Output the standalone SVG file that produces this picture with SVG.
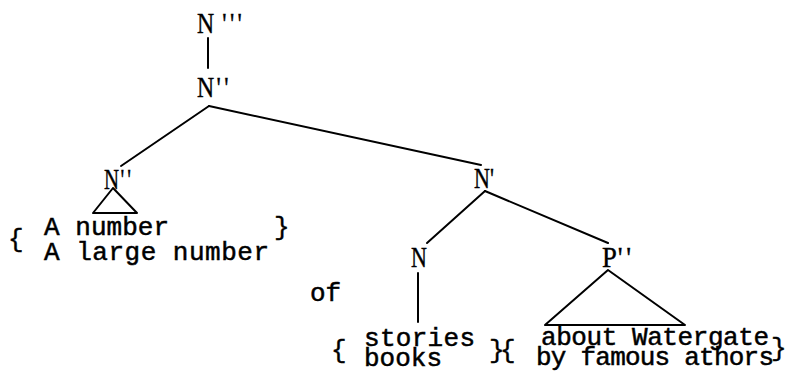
<svg xmlns="http://www.w3.org/2000/svg" width="794" height="388" viewBox="0 0 794 388">
<style>
.lbl{font-family:"Liberation Serif","Times New Roman",serif;font-size:29px;fill:#000;stroke:#000;stroke-width:0.4}
.tw{font-family:"Liberation Mono","Courier New",monospace;font-size:26px;fill:#000;stroke:#000;stroke-width:0.5}
.br{font-family:"Liberation Mono","Courier New",monospace;font-size:26px;fill:#000;stroke:#000;stroke-width:0.4}
.e{stroke:#000;stroke-width:2;fill:none;stroke-linecap:round;stroke-linejoin:round}
</style>
<rect width="794" height="388" fill="#fff"/>
<g id="connectors">
<line class="e" x1="208" y1="38" x2="208" y2="68"/>
<line class="e" x1="209" y1="106" x2="121" y2="166"/>
<line class="e" x1="209" y1="106" x2="481" y2="165"/>
<line class="e" x1="485" y1="191" x2="427" y2="243"/>
<line class="e" x1="485" y1="191" x2="608" y2="243"/>
<line class="e" x1="418" y1="273" x2="418" y2="322"/>
<polygon class="e" points="113,188 93,213 137,213"/>
<polygon class="e" points="608,270 545,325 685,325"/>
</g>
<g id="n3">
<text class="lbl" transform="translate(197,33) scale(0.82,1)">N<tspan dx="10" letter-spacing="4">'''</tspan></text>
</g>
<g id="n2top">
<text class="lbl" transform="translate(197,97) scale(0.82,1)">N<tspan dx="3" letter-spacing="4">''</tspan></text>
</g>
<g id="n2left">
<text class="lbl" transform="translate(104,189) scale(0.72,1)" font-size="26">N<tspan dx="2" letter-spacing="4">''</tspan></text>
</g>
<g id="nbar">
<text class="lbl" transform="translate(474,188) scale(0.76,1)">N'</text>
</g>
<g id="n">
<text class="lbl" transform="translate(411,267) scale(0.76,1)">N</text>
</g>
<g id="p2">
<text class="lbl" transform="translate(602,267) scale(0.92,1)">P<tspan dx="1" letter-spacing="4">''</tspan></text>
</g>
<g id="left-words">
<text class="br" x="8" y="247">{</text>
<text class="tw" x="44" y="235" textLength="125">A number</text>
<text class="tw" x="44" y="260" textLength="225">A large number</text>
<text class="br" x="274" y="235">}</text>
</g>
<g id="of">
<text class="tw" x="310" y="301">of</text>
</g>
<g id="noun-words">
<text class="br" x="331" y="358">{</text>
<text class="tw" x="364" y="346" textLength="111">stories</text>
<text class="tw" x="364" y="366" textLength="78">books</text>
<text class="br" x="489" y="358">}</text>
</g>
<g id="pp-words">
<text class="br" x="500" y="358">{</text>
<text class="tw" x="541" y="345" textLength="228">about Watergate</text>
<text class="tw" x="536" y="365" textLength="238">by famous athors</text>
<text class="br" x="771" y="356">}</text>
</g>
</svg>
